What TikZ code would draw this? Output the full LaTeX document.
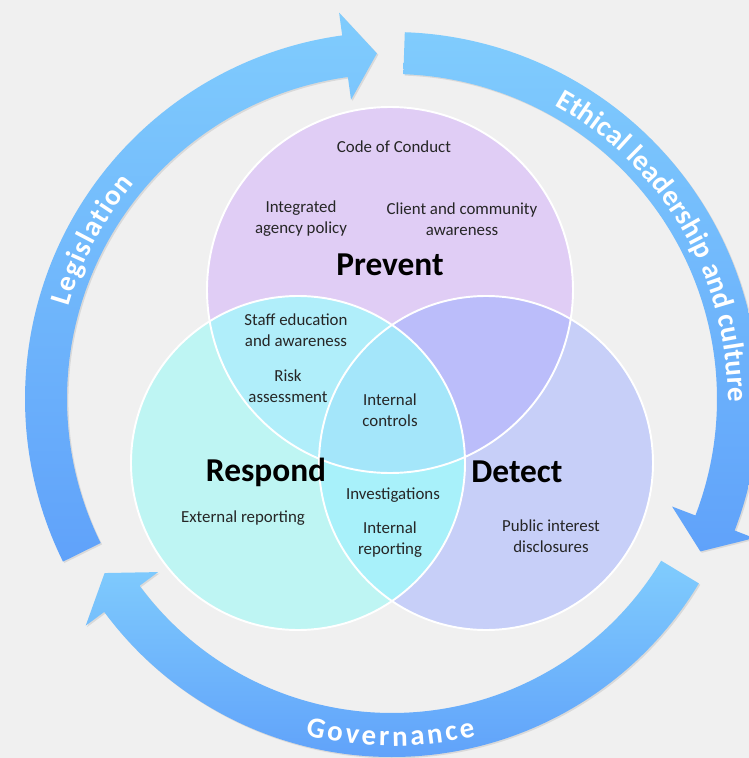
\documentclass[tikz,border=0pt]{standalone}
\usepackage{fontspec}
\setmainfont{Carlito}
\usetikzlibrary{decorations.text,shadows}

\definecolor{bggray}{HTML}{F0F0F0}
\definecolor{prevcol}{HTML}{E0CDF5}
\definecolor{respcol}{HTML}{BEF5F3}
\definecolor{detcol}{HTML}{C7CFF8}
\definecolor{prcol}{HTML}{B0EEFA}
\definecolor{pdcol}{HTML}{BBBDFA}
\definecolor{rdcol}{HTML}{A8F1FA}
\definecolor{prdcol}{HTML}{A4E6FA}
\definecolor{arrowtop}{HTML}{80CCFD}
\definecolor{arrowbot}{HTML}{60A2FA}
\definecolor{darktext}{HTML}{262626}

\newcommand\ringfont{\fontsize{16.5}{19}\selectfont\bfseries}

\tikzset{
  area/.style={font=\fontsize{9.6}{11.9}\selectfont, text=darktext, align=center},
  title/.style={font=\fontsize{19}{22}\selectfont\bfseries, text=black},
  venn/.style={draw=white, line width=1.1pt},
  ringarrow/.style={top color=arrowtop, bottom color=arrowbot,
    drop shadow={opacity=0.2, shadow xshift=0.8pt, shadow yshift=-0.8pt}},
  ringtext/.style={decorate, decoration={text along path, text color=white,
    text align={fit to path}, text={|\ringfont|#1}}},
}

\begin{document}
\begin{tikzpicture}[x=0.02cm, y=0.02cm]
\fill [bggray](-392,-359) rectangle (357,399);
\useasboundingbox (-392,-359) rectangle (357,399);

% the three arrows round the outside
\shade [ringarrow](206.3:367) arc[start angle=206.3, end angle=97.8, radius=367]
  -- (97.8:390) -- (92.5:346) -- (97.8:302) -- (97.8:325)
  arc[start angle=97.8, end angle=206.3, radius=325] -- cycle;
\shade [ringarrow](88:367) arc[start angle=88, end angle=-21, radius=367]
  -- (-21:388) -- (-26.3:344) -- (-21:300) -- (-21:325)
  arc[start angle=-21, end angle=88, radius=325] -- cycle;
\shade [ringarrow](-31:358) arc[start angle=-31, end angle=-143.5, radius=358]
  -- (-143.5:381) -- (-148.8:336) -- (-143.5:291) -- (-143.5:314)
  arc[start angle=-143.5, end angle=-31, radius=314] -- cycle;

\path [ringtext=Legislation](164:336) arc[start angle=164, end angle=140, radius=336];
\path [ringtext=Ethical leadership and culture](61:336) arc[start angle=61, end angle=-0.5, radius=336];
\path [ringtext=Governance](-104.5:347) arc[start angle=-104.5, end angle=-76, radius=347];

% venn circles
\coordinate (pc) at (-2,109);
\coordinate (rc) at (-94,-64);
\coordinate (dc) at (94,-64);

\fill [prevcol](pc) circle (183);
\fill [respcol](rc) circle (167);
\fill [detcol](dc) circle (167);
\begin{scope}
  \clip (rc) circle (167);
  \fill [rdcol](dc) circle (167);
\end{scope}
\begin{scope}
  \clip (pc) circle (183);
  \fill [prcol](rc) circle (167);
  \fill [pdcol](dc) circle (167);
  \clip (rc) circle (167);
  \fill [prdcol](dc) circle (167);
\end{scope}
\draw [venn](pc) circle (183);
\draw [venn](rc) circle (167);
\draw [venn](dc) circle (167);

\node [area] (code) at (2,252) {Code of Conduct};
\node [area] (policy) at (-91,180) {Integrated\\agency policy};
\node [area] (client) at (70,180) {Client and community\\awareness};
\node [title] (prevent) at (-2,134) {Prevent};
\node [area] (staff) at (-96,69) {Staff education\\and awareness};
\node [area] (risk) at (-104,13) {Risk\\assessment};
\node [area] (controls) at (-2,-11) {Internal\\controls};
\node [title] (respond) at (-126,-73) {Respond};
\node [title] (detect) at (125,-73) {Detect};
\node [area] (external) at (-149,-119) {External reporting};
\node [area] (invest) at (1,-96) {Investigations};
\node [area] (intrep) at (-2,-141) {Internal\\reporting};
\node [area] (public) at (159,-137) {Public interest\\disclosures};
\end{tikzpicture}
\end{document}
